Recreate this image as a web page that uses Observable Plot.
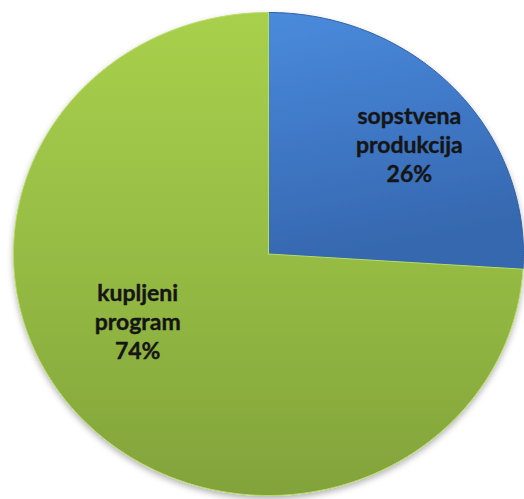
<!DOCTYPE html>
<html>
<head>
<meta charset="utf-8">
<script src="https://cdn.jsdelivr.net/npm/d3@7"></script>
<script src="https://cdn.jsdelivr.net/npm/@observablehq/plot@0.6"></script>
<style>
  html, body { margin: 0; padding: 0; background: #fff; }
  #chart svg { display: block; }
</style>
</head>
<body>
<div id="chart"></div>
<script>
// Data
const categories = ["sopstvena produkcija", "kupljeni program"];
const labels = ["sopstvena\nprodukcija\n26%", "kupljeni\nprogram\n74%"];
const values = [26, 74];
const gradIds = ["gBlue", "gGreen"];

const W = 524, H = 499;

// pie layout (clockwise from 12 o'clock, no sorting)
const pie = d3.pie().sort(null).value(d => d.value);
const arcs = pie(categories.map((c, i) => ({category: c, value: values[i], label: labels[i]})));

// outline points in data units of the unit circle
function slicePoints(a) {
  const pts = [{category: a.data.category, x: 0, y: 0}];
  const n = Math.max(2, Math.ceil((a.endAngle - a.startAngle) / (Math.PI / 360)));
  for (let k = 0; k <= n; k++) {
    const t = a.startAngle + (a.endAngle - a.startAngle) * k / n;
    pts.push({category: a.data.category, x: Math.sin(t), y: Math.cos(t)});
  }
  pts.push({category: a.data.category, x: 0, y: 0});
  return pts;
}

// label anchors from slice mid angles
const labelR = 0.65;
const labelData = arcs.map(a => {
  const m = (a.startAngle + a.endAngle) / 2;
  return {label: a.data.label, x: labelR * Math.sin(m), y: labelR * Math.cos(m)};
});
const labelDx = [20, -10];
const labelDy = [-3, -41];

const sliceMarks = arcs.map((a, i) =>
  Plot.line(slicePoints(a), {
    x: "x", y: "y",
    fill: `url(#${gradIds[i]})`,
    stroke: i === 0 ? "#2f5f9e" : "#b9dc64",
    strokeWidth: 1,
    strokeLinejoin: "round",
    curve: "linear"
  })
);

const chart = Plot.plot({
  width: W,
  height: H,
  marginLeft: 13,
  marginRight: 1,
  marginTop: 12,
  marginBottom: 4,
  x: {domain: [-1, 1], axis: null},
  y: {domain: [-1, 1], axis: null},
  style: {background: "#fff", overflow: "visible"},
  marks: [
    ...sliceMarks,
    ...labelData.map((d, i) => Plot.text([d], {
      x: "x", y: "y", text: "label",
      dx: labelDx[i], dy: labelDy[i],
      fontSize: 23,
      fontWeight: "bold",
      fontFamily: "Lato, 'Open Sans', sans-serif",
      fill: "#151515",
      stroke: "#151515",
      strokeWidth: 0.4,
      lineHeight: 1.26,
      textAnchor: "middle",
      lineAnchor: "middle"
    }))
  ]
});

// gradients and shadow
const ns = "http://www.w3.org/2000/svg";
const defs = document.createElementNS(ns, "defs");
defs.innerHTML = `
  <linearGradient id="gBlue" x1="0" y1="0" x2="0.2" y2="1">
    <stop offset="0" stop-color="#4a8bdc"/>
    <stop offset="0.5" stop-color="#3f78c6"/>
    <stop offset="1" stop-color="#3567ae"/>
  </linearGradient>
  <linearGradient id="gGreen" x1="0" y1="0" x2="0" y2="1">
    <stop offset="0" stop-color="#a8d04c"/>
    <stop offset="0.5" stop-color="#96bc44"/>
    <stop offset="1" stop-color="#82a33a"/>
  </linearGradient>
  <filter id="pieShadow" x="-10%" y="-10%" width="120%" height="125%">
    <feDropShadow dx="0" dy="3" stdDeviation="3" flood-color="#000" flood-opacity="0.3"/>
  </filter>`;
chart.insertBefore(defs, chart.firstChild);
const groups = chart.querySelectorAll("g[aria-label='line']");
const wrap = document.createElementNS(ns, "g");
wrap.setAttribute("filter", "url(#pieShadow)");
groups[0].parentNode.insertBefore(wrap, groups[0]);
groups.forEach(g => wrap.appendChild(g));

document.getElementById("chart").appendChild(chart);
</script>
</body>
</html>
